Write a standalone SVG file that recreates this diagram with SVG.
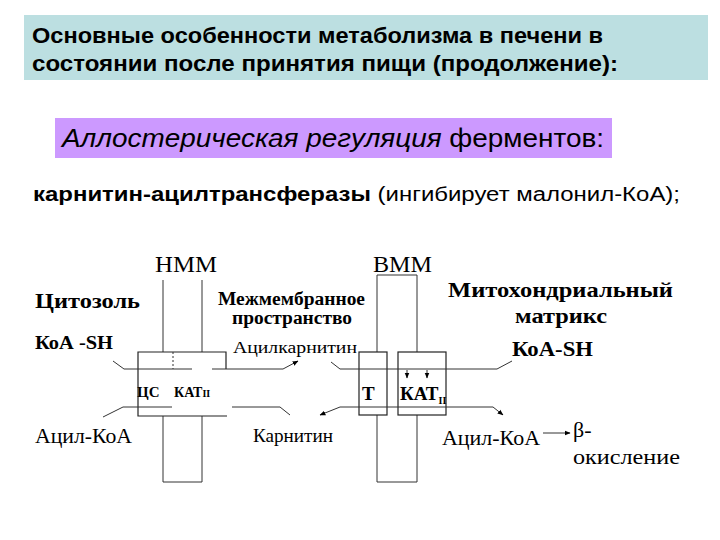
<svg xmlns="http://www.w3.org/2000/svg" width="720" height="540" viewBox="0 0 720 540">
<defs>
<style>
.sans{font-family:"Liberation Sans",Arial,sans-serif;fill:#000}
.serif{font-family:"Liberation Serif","Times New Roman",serif;fill:#000}
.b{font-weight:bold}
.ln{stroke:#222;stroke-width:1.2;fill:none}
.thin{stroke:#333;stroke-width:1;fill:none}
</style>
<marker id="ah" viewBox="0 0 10 10" refX="9" refY="5" markerWidth="6" markerHeight="6" orient="auto">
<path d="M0,1 L10,5 L0,9 z" fill="#000"/>
</marker>
</defs>
<rect width="720" height="540" fill="#fff"/>
<g id="title">
<rect x="24" y="15" width="684" height="65" fill="#BCDFE1"/>
<text class="sans b" x="32" y="43" font-size="22" textLength="571" lengthAdjust="spacingAndGlyphs">Основные особенности метаболизма в печени в</text>
<text class="sans b" x="32" y="71" font-size="22" textLength="586" lengthAdjust="spacingAndGlyphs">состоянии после принятия пищи (продолжение):</text>
</g>
<g id="subtitle">
<rect x="55" y="118" width="557" height="40" fill="#CC99FF"/>
<text class="sans" x="62" y="147" font-size="26" textLength="542" lengthAdjust="spacingAndGlyphs"><tspan font-style="italic">Аллостерическая регуляция</tspan> ферментов:</text>
</g>
<g id="enzyme-line">
<text class="sans" x="33" y="201" font-size="20" textLength="647" lengthAdjust="spacingAndGlyphs"><tspan font-weight="bold">карнитин-ацилтрансферазы</tspan> (ингибирует малонил-КоА);</text>
</g>
<g id="outer-membrane">
<path class="thin" d="M163,280 V352 M202,280 V352"/>
<path class="thin" d="M163,416 V482 H202 V416"/>
<text class="serif" x="155" y="272" font-size="23" textLength="62" lengthAdjust="spacingAndGlyphs">НММ</text>
</g>
<g id="inner-membrane">
<path class="thin" d="M377,352 V275 H417 V352"/>
<path class="thin" d="M377,415 V482 H417 V415"/>
<text class="serif" x="373" y="272" font-size="23" textLength="59" lengthAdjust="spacingAndGlyphs">ВММ</text>
</g>
<g id="cat1">
<path class="ln" d="M226,369 V352 H138 V416 H227"/>
<path d="M173,352 V369" stroke="#333" stroke-width="1" stroke-dasharray="2,2"/>
<text class="serif b" x="137" y="397" font-size="15">ЦС</text>
<text class="serif b" x="174" y="397" font-size="14">КАТ<tspan font-size="10">II</tspan></text>
</g>
<g id="translocase">
<rect class="ln" x="359" y="352" width="28" height="63"/>
<text class="serif b" x="362" y="400" font-size="19">Т</text>
</g>
<g id="cat2">
<rect class="ln" x="398" y="352" width="48" height="63"/>
<text class="serif b" x="400" y="400" font-size="19">КАТ<tspan font-size="10" dy="4">II</tspan></text>
</g>
<g id="labels">
<text class="serif b" x="35" y="308" font-size="22" textLength="105" lengthAdjust="spacingAndGlyphs">Цитозоль</text>
<text class="serif b" x="218" y="305" font-size="18" textLength="147" lengthAdjust="spacingAndGlyphs">Межмембранное</text>
<text class="serif b" x="232" y="324" font-size="18" textLength="120" lengthAdjust="spacingAndGlyphs">пространство</text>
<text class="serif b" x="35" y="349" font-size="19" textLength="78" lengthAdjust="spacingAndGlyphs">КоА -SH</text>
<text class="serif" x="233" y="353" font-size="17" textLength="124" lengthAdjust="spacingAndGlyphs">Ацилкарнитин</text>
<text class="serif b" x="448" y="297" font-size="22" textLength="225" lengthAdjust="spacingAndGlyphs">Митохондриальный</text>
<text class="serif b" x="515" y="323" font-size="22" textLength="92" lengthAdjust="spacingAndGlyphs">матрикс</text>
<text class="serif b" x="512" y="356" font-size="20" textLength="81" lengthAdjust="spacingAndGlyphs">КоА-SH</text>
<text class="serif" x="35" y="443" font-size="21" textLength="97" lengthAdjust="spacingAndGlyphs">Ацил-КоА</text>
<text class="serif" x="253" y="442" font-size="19" textLength="80" lengthAdjust="spacingAndGlyphs">Карнитин</text>
<text class="serif" x="442" y="445" font-size="21" textLength="98" lengthAdjust="spacingAndGlyphs">Ацил-КоА</text>
<text class="serif" x="573" y="437" font-size="22">β-</text>
<text class="serif" x="573" y="464" font-size="21" textLength="107" lengthAdjust="spacingAndGlyphs">окисление</text>
</g>
<g id="connectors">
<path class="thin" d="M113,361 L124,369 H192"/>
<path class="thin" d="M212,369 H283"/>
<path class="thin" d="M283,369 L298,361" marker-end="url(#ah)"/>
<path class="thin" d="M331,362 L340,369 H497 L512,361"/>
<path class="thin" d="M407,370 V378" marker-end="url(#ah)"/>
<path class="thin" d="M427,370 V378" marker-end="url(#ah)"/>
<path class="thin" d="M103,417 L123,407 H172"/>
<path class="thin" d="M232,407 H280 L290,415"/>
<path class="thin" d="M340,407 L320,415" marker-end="url(#ah)"/>
<path class="thin" d="M340,407 H493 L503,415" marker-end="url(#ah)"/>
<path class="thin" d="M543,433 H570" marker-end="url(#ah)"/>
</g>
</svg>
